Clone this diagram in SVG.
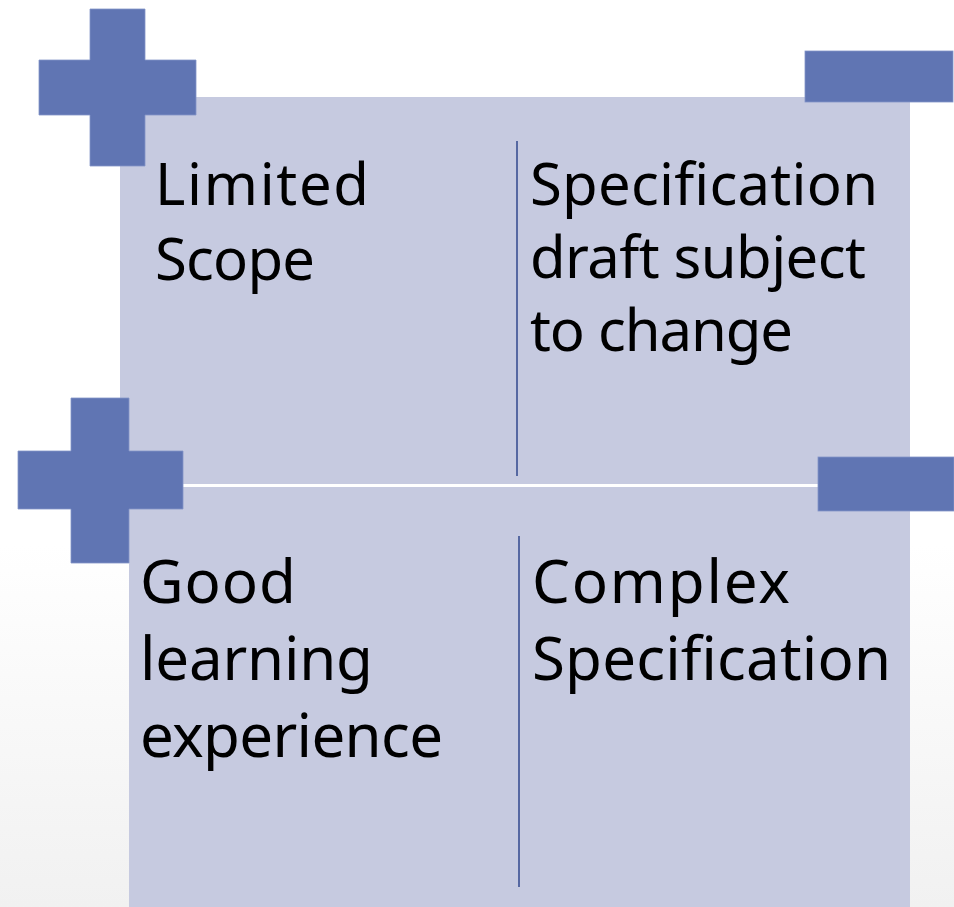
<svg xmlns="http://www.w3.org/2000/svg" width="954" height="907" viewBox="0 0 954 907">
  <defs>
    <linearGradient id="bg" x1="0" y1="0" x2="0" y2="1">
      <stop offset="0" stop-color="#ffffff"/>
      <stop offset="0.6" stop-color="#ffffff"/>
      <stop offset="1" stop-color="#f1f1f1"/>
    </linearGradient>
  </defs>
  <style>
    .panel { fill: #c6cae0; }
    .sign { fill: #6075b3; stroke: #8394c8; stroke-width: 0.8; }
    .divider { stroke: #5668a2; stroke-width: 2; fill: none; }
    .label { font-family: "Noto Sans", "Open Sans", "DejaVu Sans", sans-serif; font-size: 58px; fill: #000000; }
    .big { font-size: 60px; }
  </style>
  <rect x="0" y="0" width="954" height="907" fill="url(#bg)"/>

  <g id="panel-top">
    <rect class="panel" x="120" y="97" width="790" height="387"/>
  </g>
  <g id="panel-bottom">
    <rect class="panel" x="129" y="487" width="781" height="420"/>
  </g>

  <g id="dividers">
    <line class="divider" x1="517" y1="141" x2="517" y2="476"/>
    <line class="divider" x1="519" y1="536" x2="519" y2="887"/>
  </g>

  <g id="plus-top">
    <path class="sign" d="M90,9 H145 V60 H196 V115 H145 V166 H90 V115 H39 V60 H90 Z"/>
  </g>
  <g id="minus-top">
    <rect class="sign" x="805" y="51" width="148" height="51"/>
  </g>
  <g id="plus-bottom">
    <path class="sign" d="M71,398 H129 V451 H183 V509 H129 V563 H71 V509 H18 V451 H71 Z"/>
  </g>
  <g id="minus-bottom">
    <rect class="sign" x="818" y="457" width="136" height="54"/>
  </g>

  <g id="node-limited-scope">
    <text class="label" x="155" y="205" textLength="214" lengthAdjust="spacing">Limited</text>
    <text class="label" x="155" y="280" textLength="160" lengthAdjust="spacing">Scope</text>
  </g>
  <g id="node-spec-draft">
    <text class="label" x="530" y="205" textLength="348" lengthAdjust="spacing">Specification</text>
    <text class="label" x="530" y="278" textLength="336" lengthAdjust="spacing">draft subject</text>
    <text class="label" x="530" y="351" textLength="263" lengthAdjust="spacing">to change</text>
  </g>
  <g id="node-good-learning">
    <text class="label big" x="140" y="603" textLength="156" lengthAdjust="spacing">Good</text>
    <text class="label big" x="140" y="680" textLength="233" lengthAdjust="spacing">learning</text>
    <text class="label big" x="140" y="757" textLength="303" lengthAdjust="spacing">experience</text>
  </g>
  <g id="node-complex-spec">
    <text class="label big" x="532" y="603" textLength="258" lengthAdjust="spacing">Complex</text>
    <text class="label big" x="532" y="680" textLength="359" lengthAdjust="spacing">Specification</text>
  </g>
</svg>
